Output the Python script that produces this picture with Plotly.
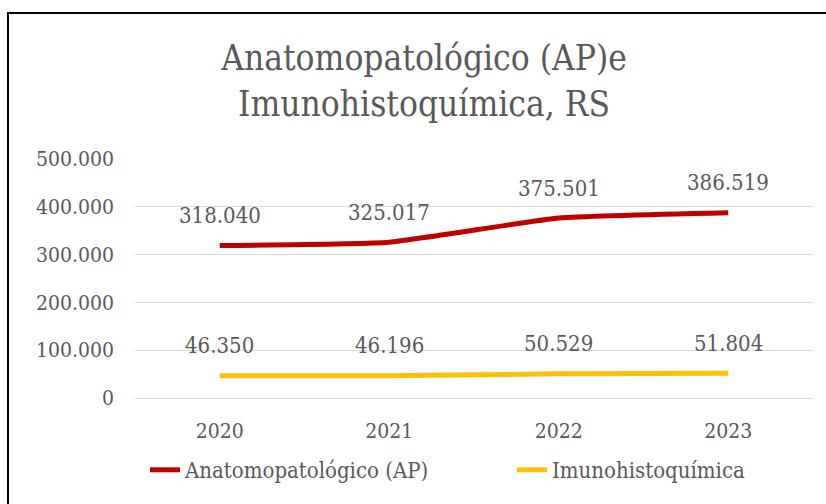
import plotly.graph_objects as go

years = ["2020", "2021", "2022", "2023"]
ap_values = [318040, 325017, 375501, 386519]
ihq_values = [46350, 46196, 50529, 51804]
series_names = ["Anatomopatológico (AP)", "Imunohistoquímica"]
colors = ["#C00000", "#FFC000"]
title_text = "Anatomopatológico (AP)e<br>Imunohistoquímica, RS"

FONT = "DejaVu Serif Condensed, Liberation Serif, serif"
GRAY = "#595959"

W, H = 826, 504
ml, mr, mt, mb = 135, 13, 158, 106
pw = W - ml - mr
ph = H - mt - mb

fig = go.Figure()
for name, vals, col, lg in zip(series_names, [ap_values, ihq_values], colors, ["legend", "legend2"]):
    fig.add_trace(go.Scatter(
        x=years, y=vals, name=name, mode="lines", legend=lg, showlegend=True,
        line=dict(color=col, width=5, shape="spline", smoothing=0.4),
    ))

def fmt(v):
    return f"{v:,}".replace(",", ".")

annotations = []
for vals in [ap_values, ihq_values]:
    for i, v in enumerate(vals):
        annotations.append(dict(
            x=i, y=v, xref="x", yref="y", text=fmt(v), showarrow=False,
            yshift=30, yanchor="middle", font=dict(family=FONT, size=22, color=GRAY),
        ))

fig.add_shape(
    type="rect", xref="paper", yref="paper",
    x0=(8 - ml) / pw, x1=(W + 20 - ml) / pw,
    y0=-(H + 20 - mt - ph) / ph, y1=(H - mb - 13) / ph,
    line=dict(color="black", width=2), fillcolor="rgba(0,0,0,0)", layer="above",
)

legend_font = dict(family=FONT, size=22, color=GRAY)

fig.update_layout(
    width=W, height=H,
    showlegend=True,
    margin=dict(l=ml, r=mr, t=mt, b=mb, autoexpand=False),
    paper_bgcolor="white", plot_bgcolor="white",
    separators=",.",
    title=dict(
        text=title_text, x=424 / W, xanchor="center", xref="container",
        y=1 - 70 / H, yanchor="top", yref="container",
        font=dict(family=FONT, size=35, color=GRAY),
    ),
    xaxis=dict(
        type="category", range=[-0.5, 3.5], showgrid=False, zeroline=False,
        showline=False, ticks="", ticklabelstandoff=18,
        tickfont=dict(family=FONT, size=21, color=GRAY),
    ),
    yaxis=dict(
        range=[0, 500800], tickvals=[0, 100000, 200000, 300000, 400000, 500000],
        tickformat=",", showgrid=True,
        gridcolor="#D9D9D9", gridwidth=1, zeroline=True, zerolinecolor="#D9D9D9",
        zerolinewidth=1, showline=False, ticks="", ticklabelstandoff=20,
        tickfont=dict(family=FONT, size=21, color=GRAY),
    ),
    legend=dict(
        orientation="h", x=(145 - ml) / pw, xanchor="left", y=-0.3, yanchor="middle",
        font=legend_font, bgcolor="rgba(0,0,0,0)", visible=True,
    ),
    legend2=dict(
        orientation="h", x=(512 - ml) / pw, xanchor="left", y=-0.3, yanchor="middle",
        font=legend_font, bgcolor="rgba(0,0,0,0)", visible=True,
    ),
    annotations=annotations,
)

fig.write_html("out.html", post_script="document.body.style.margin='0';",
               config={"displayModeBar": False})
